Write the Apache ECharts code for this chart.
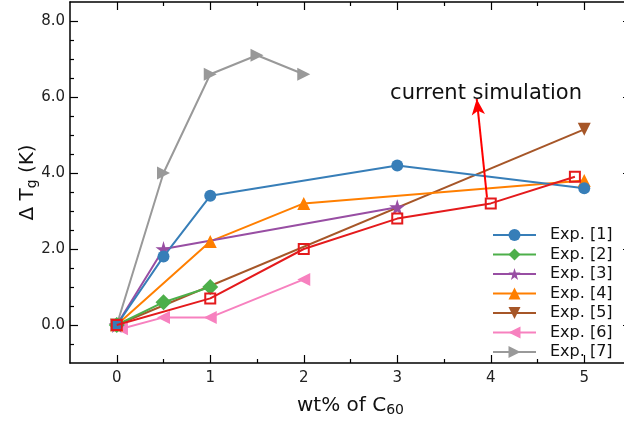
<!DOCTYPE html>
<html>
<head>
    <meta charset="utf-8">
    <title>Delta Tg vs wt% C60</title>
    <script src="https://cdn.jsdelivr.net/npm/echarts@6/dist/echarts.min.js"></script>
    <style>
        body { margin: 0; background: #fff; }
    </style>
</head>
<body>
    <div id="main" style="width: 624px;height:421px;"></div>
    <script type="text/javascript">
        // data: [wt%, dTg]
        const exp1 = [[0, 0], [0.5, 1.8], [1, 3.4], [3, 4.2], [5, 3.6]];
        const exp2 = [[0, 0], [0.5, 0.6], [1, 1.0]];
        const exp3 = [[0, 0], [0.5, 2.0], [3, 3.1]];
        const exp4 = [[0, 0], [1, 2.2], [2, 3.2], [5, 3.8]];
        const exp5 = [[0, 0], [5, 5.15]];
        const exp6 = [[0.05, -0.1], [0.5, 0.2], [1, 0.2], [2, 1.2]];
        const exp7 = [[0, 0], [0.5, 4.0], [1, 6.6], [1.5, 7.1], [2, 6.6]];
        const simulation = [[0, 0], [1, 0.7], [2, 2.0], [3, 2.8], [4, 3.2], [4.9, 3.9]];

        const arrowFrom = [3.96, 3.35];
        const arrowTo = [3.85, 5.95];
        const noteAt = [3.95, 6.1];

        const xMajor = [0, 1, 2, 3, 4, 5];
        const xMinor = [0.5, 1.5, 2.5, 3.5, 4.5];
        const yMajor = [0, 2, 4, 6, 8];
        const yMinor = [-0.5, 0.5, 1, 1.5, 2.5, 3, 3.5, 4.5, 5, 5.5, 6.5, 7, 7.5];

        const FONT = 'DejaVu Sans';
        const starPath = 'path://M50,0 L61,35 L98,35 L68,57 L79,91 L50,70 L21,91 L32,57 L2,35 L39,35 Z';

        var myChart = echarts.init(document.getElementById('main'));

        function mkX(pos, ticks, len, withLine, withLabel) {
            return {
                type: 'value', position: pos, min: -0.5, max: 5.5,
                axisLine: { show: withLine, onZero: false, lineStyle: { color: '#000', width: 1.5 } },
                axisTick: { show: true, inside: true, length: len, customValues: ticks, lineStyle: { color: '#000', width: 1.2 } },
                axisLabel: withLabel ? { show: true, customValues: ticks, color: '#222', fontSize: 15, fontFamily: FONT, margin: 8 } : { show: false },
                splitLine: { show: false }
            };
        }
        function mkY(pos, ticks, len, withLine, withLabel) {
            return {
                type: 'value', position: pos, min: -1, max: 8.5,
                axisLine: { show: withLine, onZero: false, lineStyle: { color: '#000', width: 1.5 } },
                axisTick: { show: true, inside: true, length: len, customValues: ticks, lineStyle: { color: '#000', width: 1.2 } },
                axisLabel: withLabel ? {
                    show: true, customValues: ticks, color: '#222', fontSize: 15, fontFamily: FONT, margin: 5,
                    formatter: v => v.toFixed(1)
                } : { show: false },
                splitLine: { show: false }
            };
        }

        const xAxes = [mkX('bottom', xMajor, 8, true, true), mkX('bottom', xMinor, 4, false, false),
                       mkX('top', xMajor, 8, true, false), mkX('top', xMinor, 4, false, false)];
        Object.assign(xAxes[0], {
            name: 'wt% of C{sub|60}', nameLocation: 'middle', nameGap: 31, nameMoveOverlap: false,
            nameTextStyle: { fontSize: 20, fontFamily: FONT, color: '#111',
                rich: { sub: { fontSize: 14, fontFamily: FONT, color: '#111', padding: [9, 0, 0, 0] } } }
        });
        const yAxes = [mkY('left', yMajor, 8, true, true), mkY('left', yMinor, 4, false, false),
                       mkY('right', yMajor, 8, true, false), mkY('right', yMinor, 4, false, false)];
        Object.assign(yAxes[0], {
            name: 'Δ T{sub|g} (K)', nameLocation: 'middle', nameGap: 31, nameMoveOverlap: false,
            nameTextStyle: { fontSize: 20, fontFamily: FONT, color: '#111',
                rich: { sub: { fontSize: 14, fontFamily: FONT, color: '#111', padding: [9, 0, 0, 0] } } }
        });

        function expSeries(name, data, color, symbol, size, rotate) {
            return {
                name: name, type: 'line', data: data,
                symbol: symbol, symbolSize: size, symbolRotate: rotate || 0,
                lineStyle: { color: color, width: 2 },
                itemStyle: { color: color },
                emphasis: { disabled: true }
            };
        }

        var option = {
            animation: false,
            textStyle: { fontFamily: FONT },
            grid: { left: 70, top: 2, width: 561, height: 361, containLabel: false, outerBoundsMode: 'none' },
            xAxis: xAxes,
            yAxis: yAxes,
            legend: {
                orient: 'vertical', left: 487, top: 222,
                itemWidth: 43, itemHeight: 15, itemGap: 3.5,
                textStyle: { fontSize: 16, fontFamily: FONT, color: '#111', padding: [0, 0, 0, 9] },
                data: ['Exp. [1]', 'Exp. [2]', 'Exp. [3]', 'Exp. [4]', 'Exp. [5]', 'Exp. [6]', 'Exp. [7]']
            },
            series: [
                expSeries('Exp. [7]', exp7, '#999999', 'triangle', 13, -90),
                expSeries('Exp. [6]', exp6, '#f781bf', 'triangle', 13, 90),
                expSeries('Exp. [5]', exp5, '#a65628', 'triangle', 13, 180),
                expSeries('Exp. [4]', exp4, '#ff7f00', 'triangle', 13, 0),
                expSeries('Exp. [3]', exp3, '#984ea3', starPath, 16, 0),
                expSeries('Exp. [2]', exp2, '#4daf4a', 'diamond', 16, 0),
                expSeries('Exp. [1]', exp1, '#377eb8', 'circle', 12, 0),
                {
                    name: 'current simulation', type: 'line', data: simulation,
                    symbol: 'rect', symbolSize: 10,
                    lineStyle: { color: '#e41a1c', width: 2 },
                    itemStyle: { color: 'rgba(0,0,0,0)', borderColor: '#e41a1c', borderWidth: 2 },
                    emphasis: { disabled: true },
                    z: 5,
                    markLine: {
                        silent: true, symbol: ['none', 'arrow'], symbolSize: [10, 16],
                        lineStyle: { color: '#ff0000', width: 2, type: 'solid' },
                        label: { show: false },
                        data: [[{ coord: arrowFrom }, { coord: arrowTo }]]
                    },
                    markPoint: {
                        silent: true, symbol: 'circle', symbolSize: 0,
                        label: { show: true, position: 'inside', formatter: 'current simulation',
                                 fontSize: 21, fontFamily: FONT, color: '#111' },
                        data: [{ coord: noteAt }]
                    }
                }
            ]
        };

        myChart.setOption(option);
    </script>
</body>
</html>
